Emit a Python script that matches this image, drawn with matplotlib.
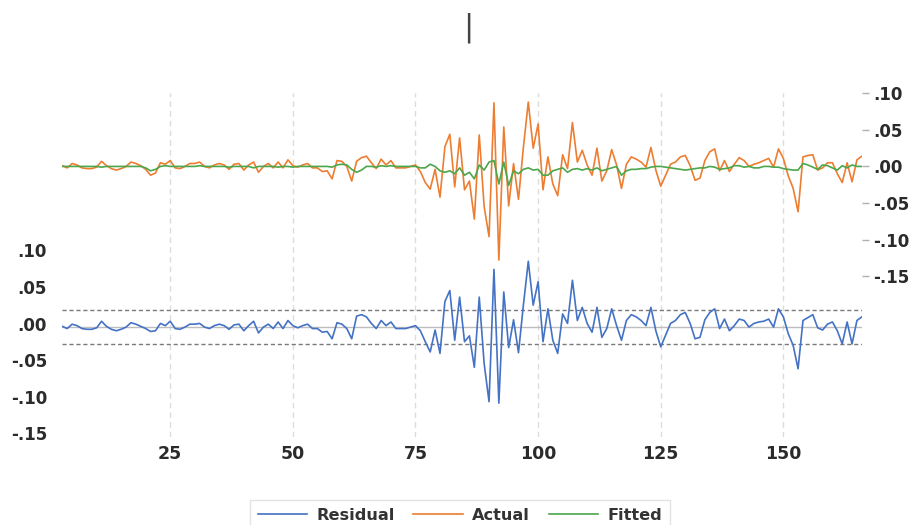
import matplotlib.pyplot as plt
import matplotlib.transforms as mtransforms

# observation index (sample 3..166)
obs = list(range(3, 167))

residual = [
    0.001, -0.002, 0.004, 0.002, -0.002, -0.003, -0.003, -0.001, 0.008, 0.001,
    -0.003, -0.005, -0.003, 0.000, 0.006, 0.004, 0.001, -0.002, -0.006, -0.005,
    0.005, 0.002, 0.008, -0.002, -0.003, 0.000, 0.004, 0.004, 0.005, 0.000,
    -0.002, 0.002, 0.004, 0.002, -0.003, 0.003, 0.004, -0.005, 0.002, 0.008,
    -0.008, 0.000, 0.004, -0.002, 0.007, -0.002, 0.009, 0.002, -0.001, 0.002,
    0.004, -0.002, -0.002, -0.007, -0.006, -0.016, 0.006, 0.004, -0.002, -0.016,
    0.015, 0.017, 0.014, 0.005, -0.002, 0.009, 0.002, 0.007, -0.002, -0.002,
    -0.002, 0.000, 0.002, -0.005, -0.020, -0.034, -0.004, -0.036, 0.035, 0.050,
    -0.018, 0.041, -0.020, -0.012, -0.055, 0.041, -0.050, -0.102, 0.079, -0.104,
    0.048, -0.028, 0.010, -0.035, 0.030, 0.090, 0.030, 0.062, -0.020, 0.025,
    -0.018, -0.036, 0.018, 0.005, 0.064, 0.009, 0.027, 0.005, -0.007, 0.027,
    -0.014, -0.002, 0.025, 0.002, -0.018, 0.009, 0.017, 0.014, 0.009, 0.002,
    0.027, -0.005, -0.027, -0.011, 0.005, 0.009, 0.017, 0.020, 0.005, -0.016,
    -0.014, 0.010, 0.020, 0.025, -0.002, 0.011, -0.005, 0.002, 0.011, 0.009,
    0.000, 0.005, 0.007, 0.008, 0.011, 0.000, 0.025, 0.014, -0.009, -0.025,
    -0.057, 0.009, 0.013, 0.017, -0.001, -0.004, 0.004, 0.007, -0.005, -0.023,
    0.007, -0.023, 0.009, 0.014,
]

actual = [
    0.001, -0.002, 0.004, 0.002, -0.002, -0.003, -0.003, -0.001, 0.007, 0.001,
    -0.003, -0.005, -0.003, 0.000, 0.006, 0.004, 0.001, -0.004, -0.012, -0.009,
    0.005, 0.003, 0.008, -0.002, -0.003, 0.000, 0.004, 0.004, 0.006, 0.000,
    -0.002, 0.002, 0.004, 0.002, -0.004, 0.003, 0.004, -0.005, 0.002, 0.006,
    -0.008, 0.000, 0.004, -0.002, 0.006, -0.002, 0.009, 0.001, -0.001, 0.002,
    0.004, -0.002, -0.002, -0.007, -0.006, -0.017, 0.008, 0.007, 0.000, -0.020,
    0.007, 0.012, 0.014, 0.005, -0.003, 0.010, 0.002, 0.008, -0.002, -0.002,
    -0.002, 0.000, 0.002, -0.007, -0.022, -0.031, -0.004, -0.042, 0.027, 0.044,
    -0.028, 0.039, -0.032, -0.020, -0.072, 0.043, -0.055, -0.096, 0.087, -0.128,
    0.054, -0.054, 0.004, -0.045, 0.026, 0.088, 0.025, 0.058, -0.032, 0.013,
    -0.024, -0.040, 0.016, -0.003, 0.060, 0.006, 0.022, 0.002, -0.012, 0.025,
    -0.020, -0.006, 0.023, 0.002, -0.030, 0.003, 0.013, 0.010, 0.006, -0.001,
    0.026, -0.005, -0.027, -0.012, 0.003, 0.006, 0.013, 0.015, 0.001, -0.019,
    -0.016, 0.008, 0.020, 0.024, -0.006, 0.008, -0.007, 0.003, 0.012, 0.008,
    0.000, 0.003, 0.005, 0.008, 0.011, -0.001, 0.024, 0.011, -0.013, -0.030,
    -0.062, 0.013, 0.015, 0.016, -0.005, -0.002, 0.005, 0.005, -0.010, -0.022,
    0.005, -0.021, 0.009, 0.014,
]

fitted = [
    0.000, 0.000, 0.000, 0.000, 0.000, 0.000, 0.000, 0.000, -0.001, 0.000,
    0.000, 0.000, 0.000, 0.000, 0.000, 0.000, 0.000, -0.002, -0.006, -0.004,
    0.000, 0.001, 0.000, 0.000, 0.000, 0.000, 0.000, 0.000, 0.001, 0.000,
    0.000, 0.000, 0.000, 0.000, -0.001, 0.000, 0.000, 0.000, 0.000, -0.002,
    0.000, 0.000, 0.000, 0.000, -0.001, 0.000, 0.000, -0.001, 0.000, 0.000,
    0.000, 0.000, 0.000, 0.000, 0.000, -0.001, 0.002, 0.003, 0.002, -0.004,
    -0.008, -0.005, 0.000, 0.000, -0.001, 0.001, 0.000, 0.001, 0.000, 0.000,
    0.000, 0.000, 0.000, -0.002, -0.002, 0.003, 0.000, -0.006, -0.008, -0.006,
    -0.010, -0.002, -0.012, -0.008, -0.017, 0.002, -0.005, 0.006, 0.008, -0.024,
    0.006, -0.026, -0.006, -0.010, -0.004, -0.002, -0.005, -0.004, -0.012, -0.012,
    -0.006, -0.004, -0.002, -0.008, -0.004, -0.003, -0.005, -0.003, -0.005, -0.002,
    -0.006, -0.004, -0.002, 0.000, -0.012, -0.006, -0.004, -0.004, -0.003, -0.003,
    -0.001, 0.000, 0.000, -0.001, -0.002, -0.003, -0.004, -0.005, -0.004, -0.003,
    -0.002, -0.002, 0.000, -0.001, -0.004, -0.003, -0.002, 0.001, 0.001, -0.001,
    0.000, -0.002, -0.002, 0.000, 0.000, -0.001, -0.001, -0.003, -0.004, -0.005,
    -0.005, 0.004, 0.002, -0.001, -0.004, 0.002, 0.001, -0.002, -0.005, 0.001,
    -0.002, 0.002, 0.000, 0.000,
]

resid_se = 0.0232
x_ticks = [25, 50, 75, 100, 125, 150]
y_ticks = [-0.15, -0.10, -0.05, 0.00, 0.05, 0.10]


def fmt(v):
    s = "%.2f" % v
    return s.replace("0.", ".", 1)


blue = "#4472c4"
orange = "#ed7d31"
green = "#4ca64c"
txt = "#2b2b2b"

fig = plt.figure(figsize=(9.19, 5.25), dpi=100)
ax = fig.add_axes([0.0678, 0.1676, 0.870, 0.6547])
ax2 = ax.twinx()

# residual panel (left axis) with +/- 1 S.E. bands
ax.axhline(0, color="#bdbdbd", lw=1.0, zorder=1)
ax.axhline(resid_se, color="#7a7a7a", lw=1.0, ls=(0, (3, 2)), zorder=1)
ax.axhline(-resid_se, color="#7a7a7a", lw=1.0, ls=(0, (3, 2)), zorder=1)
l_res, = ax.plot(obs, residual, color=blue, lw=1.2, zorder=3)

# actual / fitted (right axis)
l_act, = ax2.plot(obs, actual, color=orange, lw=1.2, zorder=3)
l_fit, = ax2.plot(obs, fitted, color=green, lw=1.2, zorder=4)

ax.set_xlim(3, 166)
ax.set_ylim(-0.1503, 0.3197)
ax2.set_ylim(-0.370, 0.100)

ax.set_xticks(x_ticks)
ax.grid(axis="x", color="#dcdcdc", lw=1.0, ls=(0, (4, 3)))
ax.set_axisbelow(True)

ax.set_yticks(y_ticks)
ax.set_yticklabels([fmt(v) for v in y_ticks])
ax2.set_yticks(y_ticks)
ax2.set_yticklabels([fmt(v) for v in y_ticks])

ax.tick_params(axis="x", length=0, pad=6, labelsize=12.5, labelcolor=txt)
ax.tick_params(axis="y", length=0, pad=11, labelsize=12, labelcolor=txt)
ax2.tick_params(axis="y", length=5, width=1, color="#b0b0b0", pad=3,
                labelsize=12, labelcolor=txt)
for lab in (ax.get_xticklabels() + ax.get_yticklabels()
            + ax2.get_yticklabels()):
    lab.set_fontweight("bold")

# the left labels sit a little above their values in the original
off = mtransforms.ScaledTranslation(0, 0.035, fig.dpi_scale_trans)
for lab in ax.get_yticklabels():
    lab.set_transform(lab.get_transform() + off)

for a in (ax, ax2):
    for sp in a.spines.values():
        sp.set_visible(False)

fig.text(0.5093, 0.948, "|", ha="center", va="center", fontsize=22,
         color="#444444")

leg = fig.legend([l_res, l_act, l_fit], ["Residual", "Actual", "Fitted"],
                 loc="upper center", bbox_to_anchor=(0.5005, 0.063), ncol=3,
                 frameon=True, fancybox=False, edgecolor="#dddddd",
                 prop={"size": 11.6, "weight": "bold"}, handlelength=3.05,
                 handletextpad=0.6, columnspacing=1.15, borderpad=0.5,
                 labelcolor="#333333")

fig.savefig("out.png", dpi=100)
